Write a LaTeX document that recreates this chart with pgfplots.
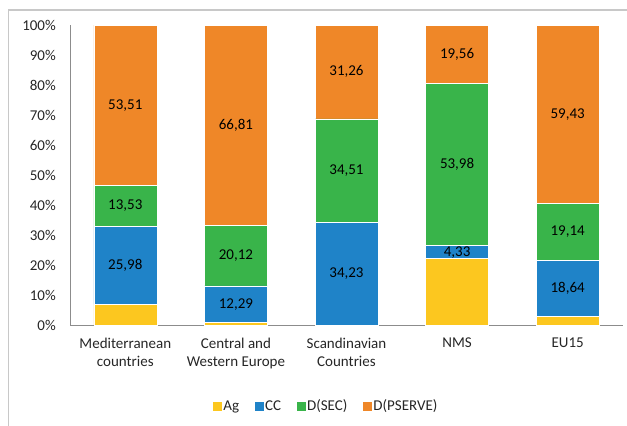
\documentclass[border=0pt]{standalone}
\usepackage{fontspec}
\setmainfont{Carlito}
\usepackage{pgfplots}
\usepackage{pgfplotstable}
\pgfplotsset{compat=1.18}
\pgfkeys{/pgf/number format/assume math mode=true}

\definecolor{cAg}{RGB}{252,199,31}
\definecolor{cCC}{RGB}{31,131,200}
\definecolor{cSEC}{RGB}{57,180,74}
\definecolor{cPSERVE}{RGB}{239,135,40}
\definecolor{frame}{RGB}{200,200,200}
\definecolor{axisgray}{RGB}{140,140,140}

\newcommand\chartfont{\fontsize{15bp}{17.7bp}\selectfont}

% share of each sector (%), by group of countries
\pgfplotstableread{
x  Ag     CC     SEC    PSERVE
0  6.98   25.98  13.53  53.51
1  0.78   12.29  20.12  66.81
2  0.00   34.23  34.51  31.26
3  22.13  4.33   53.98  19.56
4  2.79   18.64  19.14  59.43
}\shares

% value label in the middle of each stacked segment
\pgfplotsset{
  seglabel/.style={
    nodes near coords,
    point meta=rawy,
    nodes near coords={\pgfmathprintnumber[fixed,fixed zerofill,precision=2,use comma]{\pgfplotspointmeta}},
    every node near coord/.append style={anchor=center, font=\chartfont, text=black},
  },
}

\begin{document}
\begin{tikzpicture}
\path[use as bounding box] (0,0) rectangle (627bp,-426bp);
\draw[frame, line width=1.5bp] (8.5bp,-426bp) -- (8.5bp,-10bp) -- (627bp,-10bp);
\begin{axis}[
  at={(70bp,-325bp)}, anchor=south west,
  scale only axis, width=553bp, height=300bp,
  ybar stacked, bar width=63bp,
  xmin=-0.5, xmax=4.5, ymin=0, ymax=100,
  xtick=data,
  xticklabels={{Mediterranean\\countries},{Central and\\Western Europe},{Scandinavian\\Countries},NMS,EU15},
  ytick={0,10,...,100},
  yticklabel={\pgfmathprintnumber{\tick}\%},
  axis lines*=left,
  axis line style={draw=axisgray, line width=0.9bp, -},
  major tick length=0pt,
  tick label style={font=\chartfont, text=black!85},
  yticklabel style={anchor=east, inner sep=0pt, xshift=-14bp},
  xticklabel style={align=center, anchor=north, inner sep=0pt, yshift=-13bp},
  clip=false,
  legend columns=-1,
  legend image code/.code={\fill[#1,draw=none] (0bp,-4.5bp) rectangle (9bp,4.5bp);},
  legend style={at={(0.4628,-0.27)}, anchor=center, draw=none, fill=none,
    font=\chartfont, text=black!85,
    nodes={inner sep=1.5bp},
    /tikz/every even column/.append style={column sep=14bp}},
]
\addplot[fill=cAg, draw=white, line width=0.5bp] table[x=x, y=Ag] {\shares};
\addplot[fill=cCC, draw=white, line width=0.5bp, seglabel] table[x=x, y=CC] {\shares};
\addplot[fill=cSEC, draw=white, line width=0.5bp, seglabel] table[x=x, y=SEC] {\shares};
\addplot[fill=cPSERVE, draw=white, line width=0.5bp, seglabel] table[x=x, y=PSERVE] {\shares};
\legend{Ag, CC, D(SEC), D(PSERVE)}
\end{axis}
\end{tikzpicture}
\end{document}
